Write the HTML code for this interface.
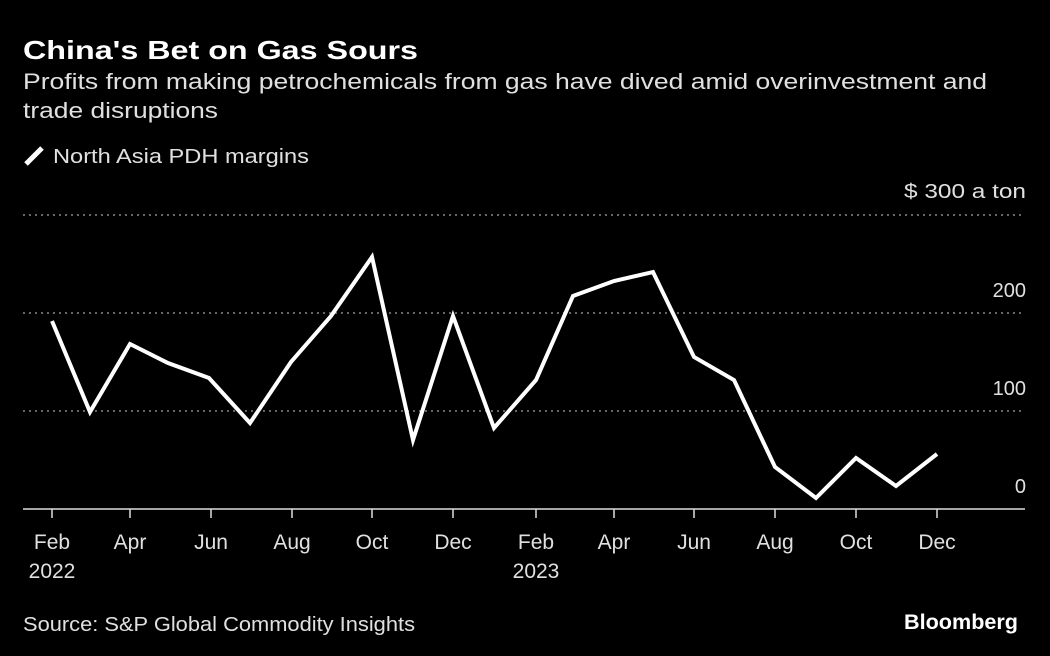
<!DOCTYPE html>
<html><head><style>
body{margin:0;background:#000;width:1050px;height:656px;overflow:hidden;font-family:"Liberation Sans","DejaVu Sans",sans-serif;}
svg{position:absolute;left:0;top:0}
</style></head><body>
<svg width="1050" height="656" xmlns="http://www.w3.org/2000/svg">
<rect width="1050" height="656" fill="#000"/>
<text x="23" y="59" fill="#fff" font-size="26" font-weight="bold" textLength="395" lengthAdjust="spacingAndGlyphs">China's Bet on Gas Sours</text>
<text x="23" y="89" fill="#e0e0e0" font-size="22" textLength="964" lengthAdjust="spacingAndGlyphs">Profits from making petrochemicals from gas have dived amid overinvestment and</text>
<text x="23" y="118" fill="#e0e0e0" font-size="22" textLength="195" lengthAdjust="spacingAndGlyphs">trade disruptions</text>
<line x1="26" y1="164" x2="42" y2="148" stroke="#fff" stroke-width="5"/>
<text x="53" y="163" fill="#e0e0e0" font-size="20" textLength="256" lengthAdjust="spacingAndGlyphs">North Asia PDH margins</text>
<g stroke="#888" stroke-width="1.5" stroke-dasharray="2,4">
<line x1="23" y1="215" x2="1025" y2="215"/>
<line x1="23" y1="313" x2="1025" y2="313"/>
<line x1="23" y1="411" x2="1025" y2="411"/>
</g>
<line x1="23" y1="509" x2="1025" y2="509" stroke="#ddd" stroke-width="1.5"/>
<g stroke="#ddd" stroke-width="1.5">
<line x1="52" y1="509" x2="52" y2="518"/><line x1="130" y1="509" x2="130" y2="518"/>
<line x1="211" y1="509" x2="211" y2="518"/><line x1="292" y1="509" x2="292" y2="518"/>
<line x1="372" y1="509" x2="372" y2="518"/><line x1="453" y1="509" x2="453" y2="518"/>
<line x1="536" y1="509" x2="536" y2="518"/><line x1="614" y1="509" x2="614" y2="518"/>
<line x1="694" y1="509" x2="694" y2="518"/><line x1="775" y1="509" x2="775" y2="518"/>
<line x1="856" y1="509" x2="856" y2="518"/><line x1="937" y1="509" x2="937" y2="518"/>
</g>
<g fill="#e0e0e0" font-size="20" text-anchor="end">
<text x="1026" y="198" textLength="122" lengthAdjust="spacingAndGlyphs">$ 300 a ton</text>
<text x="1026" y="297">200</text>
<text x="1026" y="395">100</text>
<text x="1026" y="493">0</text>
</g>
<g fill="#e0e0e0" font-size="21" text-anchor="middle">
<text x="52" y="549">Feb</text><text x="52" y="578">2022</text>
<text x="130" y="549">Apr</text><text x="211" y="549">Jun</text>
<text x="292" y="549">Aug</text><text x="372" y="549">Oct</text>
<text x="453" y="549">Dec</text><text x="536" y="549">Feb</text><text x="536" y="578">2023</text>
<text x="614" y="549">Apr</text><text x="694" y="549">Jun</text>
<text x="775" y="549">Aug</text><text x="856" y="549">Oct</text><text x="937" y="549">Dec</text>
</g>
<polyline fill="none" stroke="#fff" stroke-width="4" stroke-linejoin="miter" points="52,321 90,412 130,344 168,363 209,378 250,423 291,362 331,316 372,257 413,440 453,316 494,428 536,380 573,296 614,281 653,272 694,357 734,380 775,467 816,498 856,458 896,486 937,454"/>
<text x="23" y="631" fill="#e0e0e0" font-size="20" textLength="392" lengthAdjust="spacingAndGlyphs">Source: S&amp;P Global Commodity Insights</text>
<text x="1018" y="629" fill="#fff" font-size="21" font-weight="bold" text-anchor="end" textLength="114" lengthAdjust="spacingAndGlyphs">Bloomberg</text>
</svg>
</body></html>
